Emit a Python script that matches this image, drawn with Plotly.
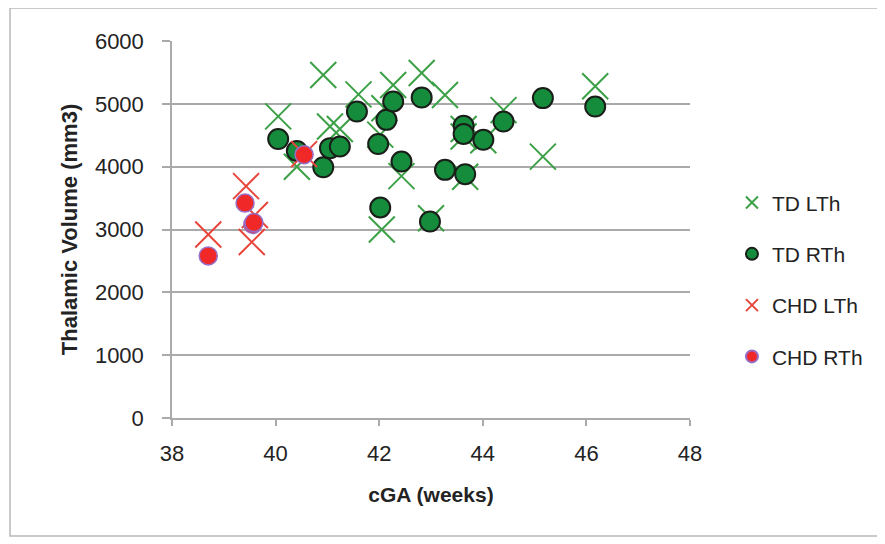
import plotly.graph_objects as go

# TD left thalamus
td_lth_x = [40.05, 40.41, 40.92, 41.05, 41.24, 41.60, 42.02, 42.05, 42.10, 42.27, 42.43,
            42.82, 43.00, 43.27, 43.63, 43.63, 43.66, 44.01, 44.40, 45.16, 46.17]
td_lth_y = [4800, 4000, 5460, 4640, 4600, 5150, 4510, 3000, 4930, 5300, 3850,
            5490, 3180, 5140, 4600, 4480, 3840, 4420, 4900, 4160, 5280]
# TD right thalamus
td_rth_x = [40.05, 40.41, 40.92, 41.05, 41.24, 41.57, 41.98, 42.02, 42.14, 42.27, 42.43,
            42.82, 42.98, 43.27, 43.63, 43.63, 43.66, 44.01, 44.40, 45.16, 46.17]
td_rth_y = [4440, 4250, 3990, 4295, 4320, 4877, 4360, 3350, 4745, 5037, 4081,
            5100, 3126, 3949, 4650, 4520, 3880, 4427, 4718, 5091, 4957]
# CHD left thalamus
chd_lth_x = [38.70, 39.43, 39.54, 39.60, 40.55]
chd_lth_y = [2920, 3690, 2800, 3230, 4200]
# CHD right thalamus
chd_rth_x = [38.70, 39.41, 39.56, 39.58, 40.55]
chd_rth_y = [2580, 3420, 3080, 3110, 4190]

x_ticks = [38, 40, 42, 44, 46, 48]
y_ticks = [0, 1000, 2000, 3000, 4000, 5000, 6000]

FONT = "Liberation Sans"
TXT = "rgb(35,35,35)"
GRID = "rgb(170,170,170)"

fig = go.Figure()
fig.add_trace(go.Scatter(x=td_lth_x, y=td_lth_y, mode="markers", name="TD LTh",
                         legendgroup="a",
                         marker=dict(symbol="x-thin", size=26,
                                     line=dict(color="rgb(60,160,70)", width=2))))
fig.add_trace(go.Scatter(x=td_rth_x, y=td_rth_y, mode="markers", name="TD RTh",
                         legendgroup="b",
                         marker=dict(symbol="circle", size=20, color="rgb(20,140,60)",
                                     line=dict(color="rgb(25,30,25)", width=2))))
fig.add_trace(go.Scatter(x=chd_lth_x, y=chd_lth_y, mode="markers", name="CHD LTh",
                         legendgroup="c",
                         marker=dict(symbol="x-thin", size=26,
                                     line=dict(color="rgb(232,70,60)", width=2))))
fig.add_trace(go.Scatter(x=chd_rth_x, y=chd_rth_y, mode="markers", name="CHD RTh",
                         legendgroup="d",
                         marker=dict(symbol="circle", size=18, color="rgb(240,40,40)",
                                     line=dict(color="rgb(150,110,200)", width=1.5))))

fig.update_layout(
    width=885, height=544,
    paper_bgcolor="white", plot_bgcolor="white",
    margin=dict(l=164, r=203, t=33, b=134),
    font=dict(family=FONT, size=22, color=TXT),
    showlegend=True,
    legend=dict(x=1.081, y=0.625, xanchor="left", yanchor="top",
                traceorder="grouped", tracegroupgap=21, itemsizing="constant",
                font=dict(family=FONT, size=21, color=TXT),
                bgcolor="rgba(0,0,0,0)"),
    xaxis=dict(range=[38, 48], tickvals=x_ticks, ticktext=[str(v) for v in x_ticks],
               showgrid=False, zeroline=False, showline=True, linecolor=GRID, linewidth=1.5,
               ticks="outside", ticklen=6, tickcolor=GRID, tickwidth=1.5,
               ticklabelstandoff=9,
               tickfont=dict(family=FONT, size=22, color=TXT),
               title=dict(text="<b>cGA (weeks)</b>", standoff=22,
                          font=dict(family=FONT, size=21, color=TXT)),
               automargin=False),
    yaxis=dict(range=[0, 6000], tickvals=y_ticks, ticktext=[str(v) for v in y_ticks],
               showgrid=True, gridcolor=GRID, gridwidth=1.5, zeroline=False,
               showline=True, linecolor=GRID, linewidth=1.5,
               ticks="outside", ticklen=8, tickcolor=GRID, tickwidth=1.5,
               ticklabelstandoff=14,
               tickfont=dict(family=FONT, size=22, color=TXT),
               title=dict(text="<b>Thalamic Volume (mm3)</b>", standoff=11,
                          font=dict(family=FONT, size=22, color=TXT)),
               automargin=False),
    shapes=[dict(type="rect", xref="paper", yref="paper",
                 x0=-0.3127, x1=1.363, y0=-0.313, y1=1.0875,
                 line=dict(color="rgb(185,185,185)", width=1.5), layer="below")],
)

fig.write_html("out.html")
